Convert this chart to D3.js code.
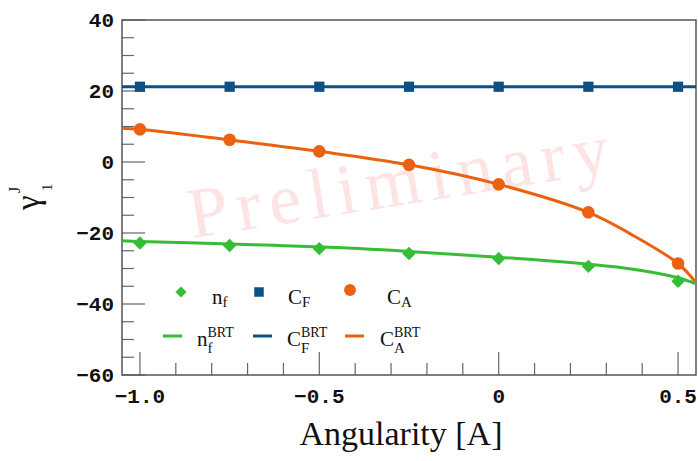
<!DOCTYPE html>
<html>
<head>
<meta charset="utf-8">
<script src="https://cdn.jsdelivr.net/npm/d3@7"></script>
<style>
  html, body { margin: 0; padding: 0; background: #fff; }
  svg { display: block; }
</style>
</head>
<body>
<div id="chart"></div>
<script>
// ---- data ----
const angularity = [-1, -0.75, -0.5, -0.25, 0, 0.25, 0.5];
const nfValues = [-22.8, -23.5, -24.4, -25.8, -27.2, -29.4, -33.6];
const cfValues = [21.2, 21.2, 21.2, 21.2, 21.2, 21.2, 21.2];
const caValues = [9.2, 6.25, 3.0, -0.8, -6.3, -14.2, -28.6];

// BRT curves
const brtA = [-1.05, -1, -0.75, -0.5, -0.25, 0, 0.25, 0.375, 0.5, 0.55];
const nfBRT = [-22.2, -22.4, -23.1, -23.9, -25.2, -26.8, -28.8, -30.2, -32.6, -34.3];
const caBRT = [9.5, 9.2, 6.2, 3.0, -0.8, -6.3, -14.2, -20.7, -28.6, -34.0];
const cfBRTA = [-1.05, 0.55];
const cfBRT = [21.2, 21.2];

const xMajor = [-1.0, -0.5, 0, 0.5];
const xMajorLabels = ["−1.0", "−0.5", "0", "0.5"];
const yMajor = [-60, -40, -20, 0, 20, 40];
const yMajorLabels = ["−60", "−40", "−20", "0", "20", "40"];

const green = "#36bd36", blue = "#0b5186", orange = "#ea6210";
const SERIF = "'Liberation Serif', 'Times New Roman', 'DejaVu Serif', serif";
const MONO = "'Liberation Mono', 'Courier New', 'DejaVu Sans Mono', monospace";

// ---- setup ----
const width = 698, height = 461;
const pLeft = 122, pRight = 696, pTop = 20, pBottom = 375;

const svg = d3.select("#chart").append("svg")
  .attr("width", width)
  .attr("height", height);

const x = d3.scaleLinear().domain([-1.05, 0.55]).range([pLeft, pRight]);
const y = d3.scaleLinear().domain([-60, 40]).range([pBottom, pTop]);

svg.append("clipPath").attr("id", "clip")
  .append("rect")
  .attr("x", pLeft).attr("y", pTop)
  .attr("width", pRight - pLeft).attr("height", pBottom - pTop);

function serifText(sel, size) {
  return sel.append("text")
    .attr("font-family", SERIF)
    .attr("font-size", size)
    .attr("fill", "#111");
}

// watermark
serifText(svg, 72)
  .attr("transform", "translate(402,205) rotate(-9)")
  .attr("text-anchor", "middle")
  .attr("textLength", 425)
  .attr("lengthAdjust", "spacing")
  .attr("fill", "#fde3e3")
  .text("Preliminary");

// ticks (inside, left + bottom only)
const gTicks = svg.append("g").attr("stroke", "#666").attr("stroke-width", 1.2);
const xMinor = d3.range(-10, 6).map(d => d / 10).filter(d => !xMajor.some(m => Math.abs(m - d) < 1e-9));
gTicks.selectAll(".xmin").data(xMinor).join("line")
  .attr("x1", d => x(d)).attr("x2", d => x(d))
  .attr("y1", pBottom).attr("y2", pBottom - 12);
gTicks.selectAll(".xmaj").data(xMajor).join("line")
  .attr("x1", d => x(d)).attr("x2", d => x(d))
  .attr("y1", pBottom).attr("y2", pBottom - 23);
const yMinor = d3.range(-60, 41, 5).filter(d => d % 20 !== 0);
gTicks.selectAll(".ymin").data(yMinor).join("line")
  .attr("x1", pLeft).attr("x2", pLeft + 12)
  .attr("y1", d => y(d)).attr("y2", d => y(d));
gTicks.selectAll(".ymaj").data(yMajor).join("line")
  .attr("x1", pLeft).attr("x2", pLeft + 23)
  .attr("y1", d => y(d)).attr("y2", d => y(d));

// frame
svg.append("rect")
  .attr("x", pLeft).attr("y", pTop)
  .attr("width", pRight - pLeft).attr("height", pBottom - pTop)
  .attr("fill", "none").attr("stroke", "#555").attr("stroke-width", 1.5);

// tick labels
svg.selectAll(".xlab").data(xMajor).join("text")
  .attr("font-family", MONO).attr("font-weight", "bold").attr("font-size", 21)
  .attr("fill", "#111")
  .attr("x", d => x(d)).attr("y", 403)
  .attr("text-anchor", "middle")
  .text((d, i) => xMajorLabels[i]);
svg.selectAll(".ylab").data(yMajor).join("text")
  .attr("font-family", MONO).attr("font-weight", "bold").attr("font-size", 21)
  .attr("fill", "#111")
  .attr("x", 114).attr("y", d => y(d) + 7)
  .attr("text-anchor", "end")
  .text((d, i) => yMajorLabels[i]);

// axis titles
serifText(svg, 34)
  .attr("x", 401).attr("y", 445)
  .attr("text-anchor", "middle")
  .text("Angularity [A]");

const yTitle = svg.append("g").attr("transform", "translate(39,210) rotate(-90)");
serifText(yTitle, 33).attr("x", 0).attr("y", 0).text("γ");
serifText(yTitle, 16).attr("x", 17).attr("y", -19).text("J");
serifText(yTitle, 15).attr("x", 19).attr("y", 13).text("1");

// ---- curves ----
const plot = svg.append("g").attr("clip-path", "url(#clip)");
const line = d3.line().x(d => x(d[0])).y(d => y(d[1])).curve(d3.curveCatmullRom.alpha(0.5));

plot.append("path").datum(d3.zip(cfBRTA, cfBRT))
  .attr("d", line).attr("fill", "none").attr("stroke", blue).attr("stroke-width", 3);
plot.append("path").datum(d3.zip(brtA, caBRT))
  .attr("d", line).attr("fill", "none").attr("stroke", orange).attr("stroke-width", 3);
plot.append("path").datum(d3.zip(brtA, nfBRT))
  .attr("d", line).attr("fill", "none").attr("stroke", green).attr("stroke-width", 3);

// markers
const diamond = d3.symbol().type(d3.symbolDiamond2).size(115);
const square = d3.symbol().type(d3.symbolSquare).size(105);
const circle = d3.symbol().type(d3.symbolCircle).size(125);

plot.selectAll(".cf").data(d3.zip(angularity, cfValues)).join("path")
  .attr("transform", d => `translate(${x(d[0])},${y(d[1])})`)
  .attr("d", square).attr("fill", blue);
plot.selectAll(".ca").data(d3.zip(angularity, caValues)).join("path")
  .attr("transform", d => `translate(${x(d[0])},${y(d[1])})`)
  .attr("d", circle).attr("fill", orange);
plot.selectAll(".nf").data(d3.zip(angularity, nfValues)).join("path")
  .attr("transform", d => `translate(${x(d[0])},${y(d[1])})`)
  .attr("d", diamond).attr("fill", green);

// ---- legend ----
const legend = svg.append("g");

function label(xPos, yPos, main, sub, sup, subDy) {
  const t = serifText(legend, 21).attr("x", xPos).attr("y", yPos).text(main);
  const w = t.node().getComputedTextLength();
  if (sub) serifText(legend, 15).attr("x", xPos + w).attr("y", yPos + subDy).text(sub);
  if (sup) serifText(legend, 14).attr("x", xPos + w).attr("y", yPos - 9).text(sup);
}

const row1 = 292, row2 = 336;
legend.append("path").attr("transform", `translate(181,${row1})`)
  .attr("d", d3.symbol().type(d3.symbolDiamond2).size(80)).attr("fill", green);
legend.append("path").attr("transform", `translate(259,${row1})`)
  .attr("d", d3.symbol().type(d3.symbolSquare).size(90)).attr("fill", blue);
legend.append("path").attr("transform", `translate(350,${row1 - 2})`)
  .attr("d", d3.symbol().type(d3.symbolCircle).size(110)).attr("fill", orange);

label(212, 304, "n", "f", null, 3);
label(288, 304, "C", "F", null, 3);
label(387, 304, "C", "A", null, 3);

[[163, green], [253, blue], [345, orange]].forEach(([x0, c]) => {
  legend.append("line").attr("x1", x0).attr("x2", x0 + 19)
    .attr("y1", row2).attr("y2", row2)
    .attr("stroke", c).attr("stroke-width", 3);
});
label(197, 346, "n", "f", "BRT", 7);
label(287, 346, "C", "F", "BRT", 7);
label(380, 346, "C", "A", "BRT", 7);
</script>
</body>
</html>
